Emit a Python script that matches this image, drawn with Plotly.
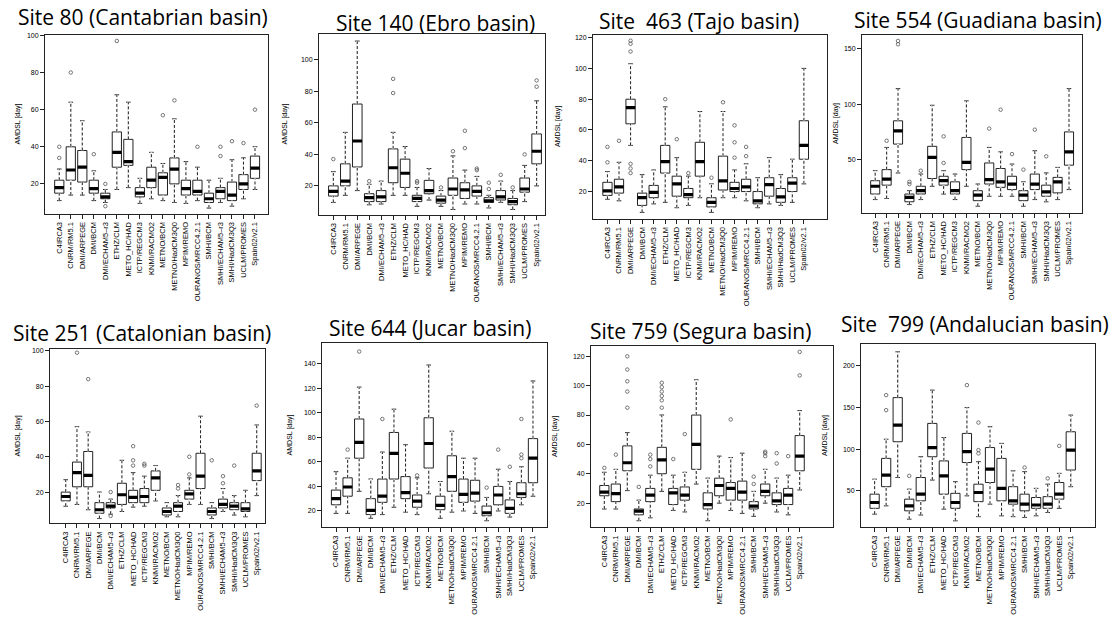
import plotly.graph_objects as go

MODELS = ["C4IRCA3", "CNRM/RM5.1", "DMI/ARPEGE", "DMI/BCM", "DMI/ECHAM5\u2013r3", "ETHZ/CLM",
          "METO_HC/HAD", "ICTP/REGCM3", "KNMI/RACMO2", "METNO/BCM", "METNO/HadCM3Q0",
          "MPIM/REMO", "OURANOS/MRCC4.2.1", "SMHI/BCM", "SMHI/ECHAM5\u2013r3", "SMHI/HadCM3Q3",
          "UCLM/PROMES", "Spain02/v2.1"]
POS = list(range(1, len(MODELS) + 1))

TITLES = ["Site 80 (Cantabrian basin)", "Site 140 (Ebro basin)", "Site\u00a0 463 (Tajo basin)",
          "Site 554 (Guadiana basin)", "Site 251 (Catalonian basin)", "Site 644 (Jucar basin)",
          "Site 759 (Segura basin)", "Site\u00a0 799 (Andalucian basin)"]
YLABEL = "AMDSL [day]"

# ---- Site 80 (Cantabrian)
S80_Q1 = [15, 22, 21, 15, 12, 29, 30, 13, 18, 14, 20, 14, 14, 10, 12, 11, 17, 23]
S80_MED = [18, 27.5, 29, 17.5, 13, 37, 32, 15, 22, 23.5, 28, 17.5, 16, 12, 16, 14, 20, 28.5]
S80_Q3 = [22, 40, 38, 22, 15, 48, 44, 18, 29, 26, 34, 22, 22, 15, 18, 21, 25, 35]
S80_LO = [11, 14, 14, 11, 10, 17, 18, 9.5, 12, 11, 10, 9.5, 11, 7, 10, 8, 12, 17]
S80_HI = [28, 64, 54, 27, 17, 68, 64, 23, 37, 31, 55, 32, 29, 22, 23, 33, 34, 40]
S80_OUT = [[34, 40], [80], [], [36], [20, 8], [97], [], [], [], [57], [65], [], [40], [], [35, 40], [43], [42], [60]]

# ---- Site 140 (Ebro)
S140_Q1 = [13.5, 20, 32, 10, 10, 22, 19, 10, 15, 9, 14, 12, 13.5, 9.5, 11, 8, 16, 34]
S140_MED = [16.5, 23, 48.5, 12.5, 13, 31.5, 28, 12, 17, 11, 18, 17.5, 16.5, 10.5, 13, 10, 18, 42]
S140_Q3 = [20, 34, 72, 15, 17, 43.5, 37, 14, 23.5, 13.5, 25, 22, 20, 12.5, 17, 12, 25, 53]
S140_LO = [9.5, 14, 17, 8, 8.5, 14, 14, 7, 11, 7, 5, 8.5, 8.5, 6, 9.5, 5, 10, 20]
S140_HI = [29, 54, 112, 21, 23, 54, 45, 19, 31, 17, 39, 30, 26, 14, 23, 17, 33, 74]
S140_OUT = [[37], [], [], [23], [], [79, 88], [], [22, 23], [], [19], [42], [44, 55], [30, 31], [18, 22], [27], [19], [40], [83, 87]]

# ---- Site 463 (Tajo)
S463_Q1 = [17.5, 19, 64, 11, 16, 32, 17, 16, 30, 10, 21, 20, 20, 12, 17, 13, 20, 41]
S463_MED = [20.5, 23, 74.5, 16, 19.5, 39.5, 25, 18, 39.5, 13, 27, 22, 23, 14, 24.5, 16.5, 25.5, 50]
S463_Q3 = [26, 28, 80, 19, 24, 50, 30, 22, 52, 16, 43, 26, 28, 20, 29, 22, 29, 66]
S463_LO = [15, 14, 50, 6.5, 12, 13, 9.5, 11, 16, 6.5, 16, 16, 14, 9.5, 12, 11, 13, 25]
S463_HI = [33, 39, 103, 31, 34, 75, 42, 30, 72, 25, 72, 34, 38, 29, 42, 31, 41, 100]
S463_OUT = [[39, 49], [53], [111, 116, 118, 38, 35, 32], [], [], [80], [54], [32], [], [29], [78],
            [42, 52, 63], [43, 49], [], [], [], [], []]

# ---- Site 554 (Guadiana)
S554_Q1 = [19, 27, 64, 12, 19, 33, 27, 19, 41, 13, 28, 25, 23, 13, 23, 17, 20, 45]
S554_MED = [26, 32.5, 76, 16, 22, 52, 31, 22, 47.5, 18, 32, 30, 28, 18, 28, 21, 30, 57]
S554_Q3 = [31, 41, 85, 19, 26, 62, 35, 30, 70, 22, 47, 42, 35, 22, 37, 27, 34, 75]
S554_LO = [14, 15, 38, 9.5, 14, 26, 19, 14, 26, 8, 17, 17, 17, 8, 14, 12, 14, 23]
S554_HI = [40, 61, 114, 22, 37, 99, 40, 37, 103, 28, 61, 57, 46, 30, 58, 38, 43, 114]
S554_OUT = [[], [67], [154, 157], [28, 30], [40], [], [47, 71], [], [], [], [78], [95], [55], [41], [77], [53], [], []]

# ---- Site 251 (Catalonian)
S251_Q1 = [15, 23, 23, 8, 11, 13, 14, 14, 21, 7, 9, 16, 22, 7, 11, 10, 9, 26.5]
S251_MED = [17.5, 31, 29.5, 10, 12, 18.5, 17, 17.5, 28, 9, 12, 19, 29, 9, 13, 12, 10.5, 32]
S251_Q3 = [20, 37, 43, 14, 14, 25, 21, 22, 32, 11, 14, 21, 42, 11, 16, 14, 14, 42]
S251_LO = [12, 13, 10, 5, 7.5, 9, 11.5, 12, 15, 6, 6, 13, 13, 5, 9, 7, 6, 18]
S251_HI = [27, 57, 54, 20, 16, 38, 31, 29, 35, 14, 18, 28, 63, 14, 22, 18, 21, 58]
S251_OUT = [[], [99], [84], [], [20, 6.5], [], [35, 38, 46], [35, 36], [], [], [22, 24], [30, 40], [], [38],
            [25, 29], [35], [], [69]]

# ---- Site 644 (Jucar)
S644_Q1 = [25, 32, 63, 17, 27, 46, 30, 23, 55, 21, 36, 27, 28, 16, 25, 18, 31, 43]
S644_MED = [30, 39.5, 76, 20.5, 32, 67, 35, 28, 75, 24.5, 48, 33.5, 34.5, 18.5, 33, 22, 34, 63]
S644_Q3 = [37, 47, 95, 30, 46, 84, 48, 33, 96, 32, 65, 46, 45, 24, 40, 29, 43, 79]
S644_LO = [18, 18, 36, 14, 17, 23, 19, 17, 34, 14, 19, 20, 18, 12, 20, 15, 25, 32]
S644_HI = [52, 63, 121, 46, 68, 103, 74, 47, 139, 44, 85, 63, 63, 31, 54, 44, 56, 126]
S644_OUT = [[], [70], [150], [], [95], [], [], [49], [], [], [], [], [], [39], [70], [56], [63, 66, 95], []]

# ---- Site 759 (Segura)
S759_Q1 = [25, 21, 42, 12, 21, 40, 19, 22, 43, 16, 25, 22, 22, 16, 25, 19, 19, 42]
S759_MED = [27.5, 26.5, 47.5, 14.5, 25.5, 49.5, 27, 25.5, 60, 19, 32, 30, 27.5, 18, 28, 21.5, 25.5, 52]
S759_Q3 = [32, 33, 59, 16, 30, 58, 30, 31, 80, 27, 37, 34, 35, 21, 33, 27, 30, 66]
S759_LO = [16, 16, 28.5, 8, 10, 28, 15, 14, 33, 8, 20, 15, 13, 11, 20, 14, 12, 29]
S759_HI = [41, 43, 68, 22, 39, 80, 39, 41, 104, 37, 52, 51, 54, 28, 43, 37, 39, 83]
S759_OUT = [[44], [53], [85, 96, 103, 111, 120], [31], [45, 50, 53], [85, 90, 93, 96, 99, 102], [50], [67],
            [], [], [], [77], [], [33, 38], [52, 54, 55], [47, 54], [52], [107, 123]]

# ---- Site 799 (Andalucian)
S799_Q1 = [29, 55, 109, 26, 38, 91, 46, 29, 84, 37, 60, 38, 34, 26, 29, 29, 40, 75]
S799_MED = [36, 69, 129, 32, 46, 102, 68, 36, 97, 48, 76, 53, 38, 34, 33, 34, 46, 99]
S799_Q3 = [46, 89, 162, 40, 66, 131, 86, 47, 119, 58, 102, 89, 55, 46, 42, 43, 60, 121]
S799_LO = [22, 32, 66, 16, 21, 63, 28, 14, 44, 19, 34, 20, 19, 18, 20, 24, 29, 55]
S799_HI = [64, 112, 217, 52, 91, 171, 114, 61, 150, 85, 127, 107, 74, 73, 53, 58, 71, 141]
S799_OUT = [[], [147, 165], [], [68], [], [], [], [], [177], [95, 99, 132], [], [], [], [78], [], [65], [104], []]

Y_TICKS = [[20, 40, 60, 80, 100], [20, 40, 60, 80, 100], [20, 40, 60, 80, 100, 120], [50, 100, 150],
           [20, 40, 60, 80, 100], [20, 40, 60, 80, 100, 120, 140], [20, 40, 60, 80, 100, 120],
           [50, 100, 150, 200]]
Y_RANGES = [[3.8, 100.3], [1.5, 116.6], [2.2, 121.8], [1.9, 162.5],
            [2.2, 100.9], [6.5, 156.7], [3.4, 126.8], [6, 226]]

SITES = [
    (S80_Q1, S80_MED, S80_Q3, S80_LO, S80_HI, S80_OUT),
    (S140_Q1, S140_MED, S140_Q3, S140_LO, S140_HI, S140_OUT),
    (S463_Q1, S463_MED, S463_Q3, S463_LO, S463_HI, S463_OUT),
    (S554_Q1, S554_MED, S554_Q3, S554_LO, S554_HI, S554_OUT),
    (S251_Q1, S251_MED, S251_Q3, S251_LO, S251_HI, S251_OUT),
    (S644_Q1, S644_MED, S644_Q3, S644_LO, S644_HI, S644_OUT),
    (S759_Q1, S759_MED, S759_Q3, S759_LO, S759_HI, S759_OUT),
    (S799_Q1, S799_MED, S799_Q3, S799_LO, S799_HI, S799_OUT),
]

# layout geometry (pixels)
W, H = 1117, 624
FRAMES = [(45, 268, 32, 212), (319, 545, 31, 213), (593, 827, 32, 217), (862, 1082, 32, 211),
          (50, 265, 348, 523), (322, 547, 342, 527), (591, 833, 345, 527), (861, 1095, 343, 527)]
X_RANGES = [[-0.24, 19.13], [-0.2, 18.7], [-0.25, 20.0], [-0.16, 19.14],
            [-0.4, 18.74], [-0.21, 19.21], [-0.16, 20.9], [-0.18, 20.1]]
TITLE_POS = [(143, 14), (435, 20), (699, 18), (978, 17), (142, 332), (430, 327), (700, 330), (975, 323)]
YLAB_X = [18, 285, 558, 836, 18, 290, 555, 825]

BOXW = 0.8
INK = "#222222"
TICKFONT = dict(family="Liberation Sans, Arial", size=7.5, color="#000")
fig = go.Figure()
layout = dict(width=W, height=H, margin=dict(l=0, r=0, t=0, b=0), showlegend=False,
              paper_bgcolor="white", plot_bgcolor="white", annotations=[])

for k, (q1, med, q3, lo, hi, out) in enumerate(SITES):
    n = k + 1
    xa = "x" if n == 1 else f"x{n}"
    ya = "y" if n == 1 else f"y{n}"
    fig.add_trace(go.Box(x=POS, q1=q1, median=med, q3=q3, lowerfence=lo, upperfence=hi,
                         width=BOXW, whiskerwidth=0.5, fillcolor="white", boxpoints=False,
                         line=dict(color=INK, width=1), xaxis=xa, yaxis=ya, hoverinfo="skip"))
    wx, wy = [], []
    for p, a, b, c, d in zip(POS, lo, q1, q3, hi):
        wx += [p, p, None, p, p, None]
        wy += [a, b, None, c, d, None]
    fig.add_trace(go.Scatter(x=wx, y=wy, mode="lines", line=dict(color="white", width=2),
                             xaxis=xa, yaxis=ya, hoverinfo="skip"))
    fig.add_trace(go.Scatter(x=wx, y=wy, mode="lines", line=dict(color=INK, width=1, dash="3px,2px"),
                             xaxis=xa, yaxis=ya, hoverinfo="skip"))
    mx, my = [], []
    for p, m in zip(POS, med):
        mx += [p - BOXW / 2, p + BOXW / 2, None]
        my += [m, m, None]
    fig.add_trace(go.Scatter(x=mx, y=my, mode="lines", line=dict(color="black", width=3.2),
                             xaxis=xa, yaxis=ya, hoverinfo="skip"))
    ox, oy = [], []
    for p, vals in zip(POS, out):
        for v in vals:
            ox.append(p)
            oy.append(v)
    fig.add_trace(go.Scatter(x=ox, y=oy, mode="markers",
                             marker=dict(symbol="circle-open", size=3.5, color="#555555", line=dict(width=0.8)),
                             xaxis=xa, yaxis=ya, hoverinfo="skip"))

    l, r, t, b = FRAMES[k]
    axkey_x = "xaxis" if n == 1 else f"xaxis{n}"
    axkey_y = "yaxis" if n == 1 else f"yaxis{n}"
    layout[axkey_x] = dict(domain=[l / W, r / W], range=X_RANGES[k], anchor=ya,
                           tickvals=POS, ticktext=MODELS, tickangle=-90,
                           ticks="outside", ticklen=4, tickcolor=INK, tickwidth=1,
                           tickfont=TICKFONT,
                           showline=True, mirror=True, linecolor=INK, linewidth=1,
                           showgrid=False, zeroline=False, fixedrange=True)
    layout[axkey_y] = dict(domain=[1 - b / H, 1 - t / H], range=Y_RANGES[k], anchor=xa,
                           tickvals=Y_TICKS[k], ticks="outside", ticklen=4, tickcolor=INK, tickwidth=1,
                           tickfont=dict(family="Liberation Sans, Arial", size=7, color="#000"),
                           showline=True, mirror=True, linecolor=INK, linewidth=1,
                           showgrid=False, zeroline=False, fixedrange=True)
    tx, ty = TITLE_POS[k]
    layout["annotations"].append(dict(text=TITLES[k], x=tx / W, y=1 - ty / H, xref="paper", yref="paper",
                                      xanchor="center", yanchor="middle", showarrow=False,
                                      font=dict(family="Open Sans", size=21, color="black", weight=400)))
    layout["annotations"].append(dict(text=YLABEL, x=YLAB_X[k] / W, y=1 - (t + b) / 2 / H,
                                      xref="paper", yref="paper", xanchor="center", yanchor="middle",
                                      textangle=-90, showarrow=False,
                                      font=dict(family="Liberation Sans, Arial", size=7, color="#000")))

fig.update_layout(**layout)
fig.write_html("out.html", config={"displayModeBar": False, "staticPlot": True},
               post_script="document.body.style.margin='0px';document.body.style.overflow='hidden';")
